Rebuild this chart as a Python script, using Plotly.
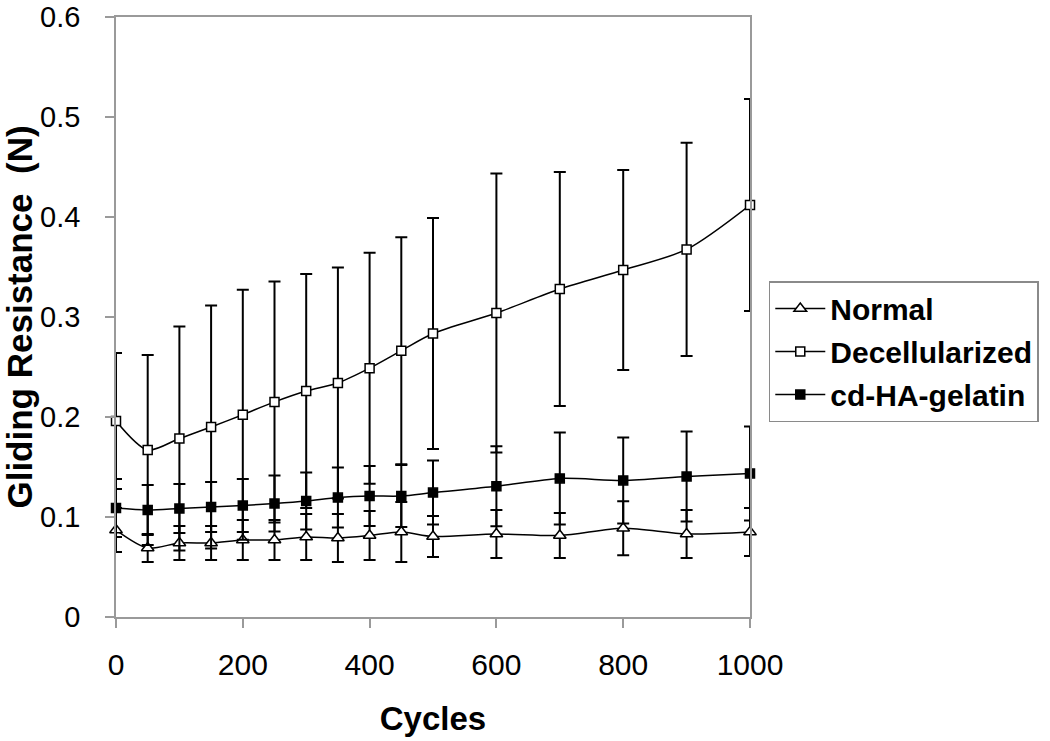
import plotly.graph_objects as go

cycles = [0, 50, 100, 150, 200, 250, 300, 350, 400, 450, 500, 600, 700, 800, 900, 1000]

normal = [0.087, 0.069, 0.074, 0.074, 0.077, 0.077, 0.080, 0.079, 0.0815, 0.085, 0.0805,
          0.083, 0.0815, 0.0887, 0.083, 0.085]
normal_err = [0.022, 0.014, 0.017, 0.017, 0.020, 0.020, 0.023, 0.024, 0.0245, 0.030, 0.0205,
              0.024, 0.0225, 0.027, 0.024, 0.024]

decell = [0.196, 0.167, 0.1785, 0.190, 0.2023, 0.2151, 0.226, 0.234, 0.2488, 0.2663, 0.2835,
          0.304, 0.328, 0.347, 0.3676, 0.412]
decell_err = [0.068, 0.095, 0.112, 0.1215, 0.125, 0.1205, 0.117, 0.1155, 0.1155, 0.1135, 0.1155,
              0.1395, 0.117, 0.100, 0.1066, 0.106]

cdha = [0.109, 0.107, 0.1085, 0.110, 0.1115, 0.1135, 0.116, 0.1194, 0.121, 0.121, 0.1244,
        0.1307, 0.1386, 0.1366, 0.1405, 0.1436]
cdha_err = [0.029, 0.025, 0.0245, 0.025, 0.0265, 0.028, 0.0285, 0.030, 0.030, 0.031, 0.032,
            0.040, 0.046, 0.043, 0.045, 0.047]

x_ticks = [0, 200, 400, 600, 800, 1000]
y_ticks = [0, 0.1, 0.2, 0.3, 0.4, 0.5, 0.6]
y_tick_text = ["0", "0.1", "0.2", "0.3", "0.4", "0.5", "0.6"]

series = [
    ("Normal", normal, normal_err, "triangle-up", "white", 11),
    ("Decellularized", decell, decell_err, "square", "white", 9),
    ("cd-HA-gelatin", cdha, cdha_err, "square", "black", 9),
]

FONT = "Liberation Sans, Arial, sans-serif"
AXIS_GREY = "#9a9a9a"

fig = go.Figure()
for i, (name, vals, errs, sym, fill, size) in enumerate(series):
    fig.add_trace(go.Scatter(
        x=cycles, y=vals, name=name, mode="lines+markers",
        legendgroup=f"g{i}",
        line=dict(color="black", width=1.5, shape="spline", smoothing=0.8),
        marker=dict(symbol=sym, size=size, color=fill, line=dict(color="black", width=1.5)),
        error_y=dict(type="data", array=errs, symmetric=True, color="black",
                     thickness=2, width=6),
        cliponaxis=False,
    ))

fig.update_layout(
    width=1050, height=741,
    margin=dict(l=116, r=299, t=17, b=124),
    paper_bgcolor="white", plot_bgcolor="white",
    font=dict(family=FONT, color="black", size=30),
    showlegend=True,
    legend=dict(
        x=1.028, y=0.56, xanchor="left", yanchor="top",
        bgcolor="white", bordercolor="#8a8a8a", borderwidth=1.5,
        font=dict(family=FONT, size=30, color="black", weight="bold"),
        traceorder="grouped", tracegroupgap=1, itemwidth=50,
    ),
    xaxis=dict(
        range=[0, 1000], tickmode="array", tickvals=x_ticks,
        showgrid=False, zeroline=False, automargin=False,
        showline=True, linecolor=AXIS_GREY, linewidth=1.5, mirror=True,
        ticks="outside", ticklen=9, tickwidth=1.5, tickcolor=AXIS_GREY,
        tickfont=dict(family=FONT, size=30, color="black"),
        ticklabelstandoff=11, ticklabeloverflow="allow",
        title=dict(text="Cycles", font=dict(family=FONT, size=33, color="black", weight="bold"),
                   standoff=27),
    ),
    yaxis=dict(
        range=[0, 0.6], tickmode="array", tickvals=y_ticks, ticktext=y_tick_text,
        showgrid=False, zeroline=False, automargin=False,
        showline=True, linecolor=AXIS_GREY, linewidth=1.5, mirror=True,
        ticks="outside", ticklen=9, tickwidth=1.5, tickcolor=AXIS_GREY,
        tickfont=dict(family=FONT, size=29, color="black"),
        ticklabelstandoff=19, ticklabeloverflow="allow",
        title=dict(text="Gliding Resistance  (N)",
                   font=dict(family=FONT, size=35, color="black", weight="bold"),
                   standoff=6),
    ),
)

fig.write_html("out.html", config={"displayModeBar": False},
               post_script="document.body.style.margin='0';")
